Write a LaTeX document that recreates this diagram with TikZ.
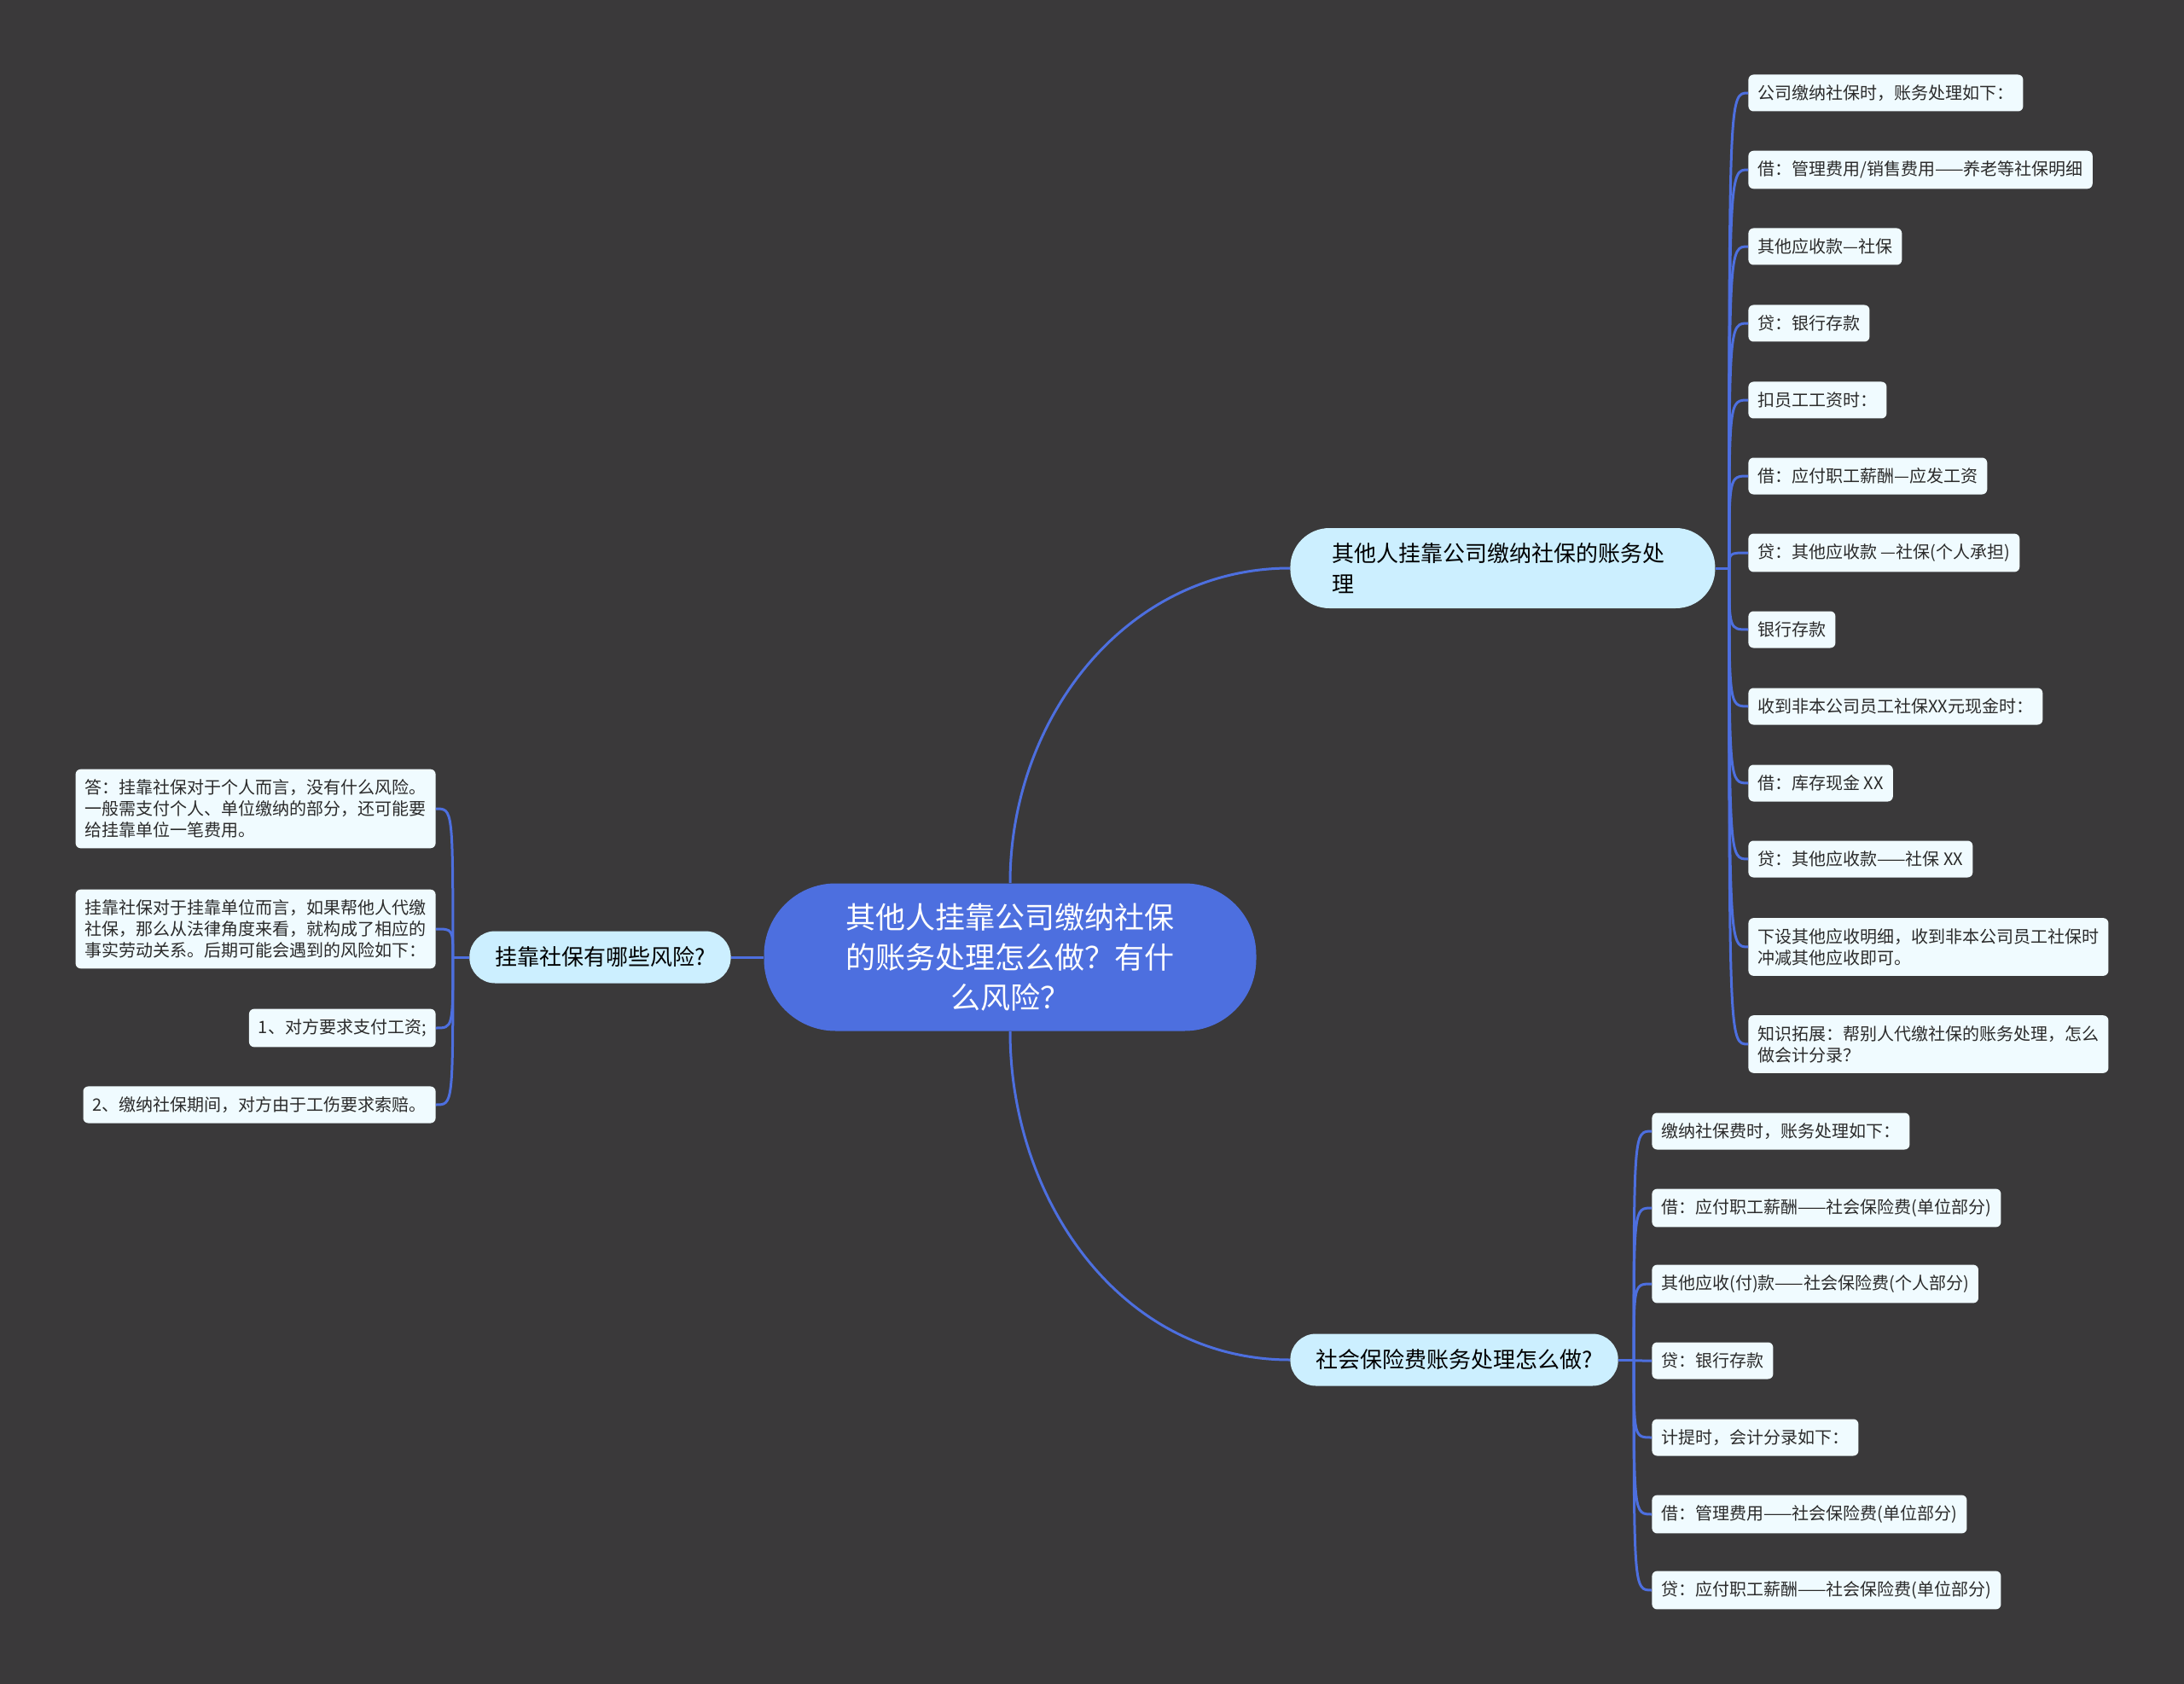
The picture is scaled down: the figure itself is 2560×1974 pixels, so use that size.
\documentclass[tikz,border=0pt]{standalone}
\usepackage{fontspec}
\setmainfont{Noto Sans CJK SC}
\usetikzlibrary{positioning}
\definecolor{mmback}{HTML}{3A393A}
\definecolor{mmblue}{HTML}{4D6FDF}
\definecolor{mmtopic}{HTML}{CCEFFF}
\definecolor{mmleaf}{HTML}{F0FBFF}
\definecolor{mmink}{HTML}{2B2B2B}
\tikzset{
  root/.style={rectangle,rounded corners=42pt,fill=mmblue,text=white,minimum width=288.5pt,minimum height=86.5pt,align=center,font=\fontsize{17.5pt}{23.5pt}\selectfont},
  topic/.style={rectangle,fill=mmtopic,text=black,font=\fontsize{13pt}{18pt}\selectfont,inner xsep=15pt,minimum height=30.5pt,rounded corners=15pt},
  leaf/.style={rectangle,rounded corners=3pt,fill=mmleaf,text=mmink,font=\fontsize{10pt}{12.5pt}\selectfont,inner xsep=5.5pt,inner ysep=6pt,minimum height=21.5pt,align=left},
  link/.style={draw=mmblue,line width=1.5pt},
}
\begin{document}
\begin{tikzpicture}[x=0.5pt,y=-0.5pt]
  \fill[mmback] (0,0) rectangle (2560,1974);
  \node[root] (ctr) at (1184,1122) {其他人挂靠公司缴纳社保\\的账务处理怎么做？有什\\么风险？};
  % branches
  \node[topic,anchor=west,align=left,text width=200pt,inner xsep=24.5pt,minimum height=47pt,rounded corners=23pt] (b1) at (1512,666) {其他人挂靠公司缴纳社保的账务处\\理};
  \node[topic,anchor=west] (b2) at (1512,1594) {社会保险费账务处理怎么做?};
  \node[topic,anchor=east] (b3) at (857,1122) {挂靠社保有哪些风险?};
  \draw[link] (ctr.north) to[out=90,in=180] (b1.west);
  \draw[link] (ctr.south) to[out=-90,in=180] (b2.west);
  \draw[link] (ctr.west) -- (b3.east);
  % leaves of b1
  \node[leaf,anchor=west] (r1) at (2049,109) {公司缴纳社保时，账务处理如下：};
  \node[leaf,anchor=west] (r2) at (2049,199) {借：管理费用/销售费用——养老等社保明细};
  \node[leaf,anchor=west] (r3) at (2049,289) {其他应收款—社保};
  \node[leaf,anchor=west] (r4) at (2049,379) {贷：银行存款};
  \node[leaf,anchor=west] (r5) at (2049,469) {扣员工工资时：};
  \node[leaf,anchor=west] (r6) at (2049,558) {借：应付职工薪酬—应发工资};
  \node[leaf,anchor=west] (r7) at (2049,648) {贷：其他应收款 —社保(个人承担)};
  \node[leaf,anchor=west] (r8) at (2049,738) {银行存款};
  \node[leaf,anchor=west] (r9) at (2049,828) {收到非本公司员工社保XX元现金时：};
  \node[leaf,anchor=west] (r10) at (2049,918) {借：库存现金 XX};
  \node[leaf,anchor=west] (r11) at (2049,1007) {贷：其他应收款——社保 XX};
  \node[leaf,anchor=west] (r12) at (2049,1110) {下设其他应收明细，收到非本公司员工社保时\\冲减其他应收即可。};
  \node[leaf,anchor=west] (r13) at (2049,1224) {知识拓展：帮别人代缴社保的账务处理，怎么\\做会计分录？};
  \coordinate[right=8pt of b1.east] (j1);
  \draw[link] (b1.east) -- (j1);
  \foreach \i in {1,...,13}
    \draw[link] (j1) .. controls (j1 |- r\i.west) .. (r\i.west);
  % leaves of b2
  \node[leaf,anchor=west] (s1) at (1936,1326) {缴纳社保费时，账务处理如下：};
  \node[leaf,anchor=west] (s2) at (1936,1416) {借：应付职工薪酬——社会保险费(单位部分)};
  \node[leaf,anchor=west] (s3) at (1936,1505) {其他应收(付)款——社会保险费(个人部分)};
  \node[leaf,anchor=west] (s4) at (1936,1595) {贷：银行存款};
  \node[leaf,anchor=west] (s5) at (1936,1685) {计提时，会计分录如下：};
  \node[leaf,anchor=west] (s6) at (1936,1775) {借：管理费用——社会保险费(单位部分)};
  \node[leaf,anchor=west] (s7) at (1936,1864) {贷：应付职工薪酬——社会保险费(单位部分)};
  \coordinate[right=9pt of b2.east] (j2);
  \draw[link] (b2.east) -- (j2);
  \foreach \i in {1,...,7}
    \draw[link] (j2) .. controls (j2 |- s\i.west) .. (s\i.west);
  % leaves of b3
  \node[leaf,anchor=east] (l1) at (511,948) {答：挂靠社保对于个人而言，没有什么风险。\\一般需支付个人、单位缴纳的部分，还可能要\\给挂靠单位一笔费用。};
  \node[leaf,anchor=east] (l2) at (511,1089) {挂靠社保对于挂靠单位而言，如果帮他人代缴\\社保，那么从法律角度来看，就构成了相应的\\事实劳动关系。后期可能会遇到的风险如下：};
  \node[leaf,anchor=east] (l3) at (511,1205) {1、对方要求支付工资;};
  \node[leaf,anchor=east] (l4) at (511,1295) {2、缴纳社保期间，对方由于工伤要求索赔。};
  \coordinate[left=9.5pt of b3.west] (j3);
  \draw[link] (b3.west) -- (j3);
  \foreach \i in {1,...,4}
    \draw[link] (j3) .. controls (j3 |- l\i.east) .. (l\i.east);
\end{tikzpicture}
\end{document}
